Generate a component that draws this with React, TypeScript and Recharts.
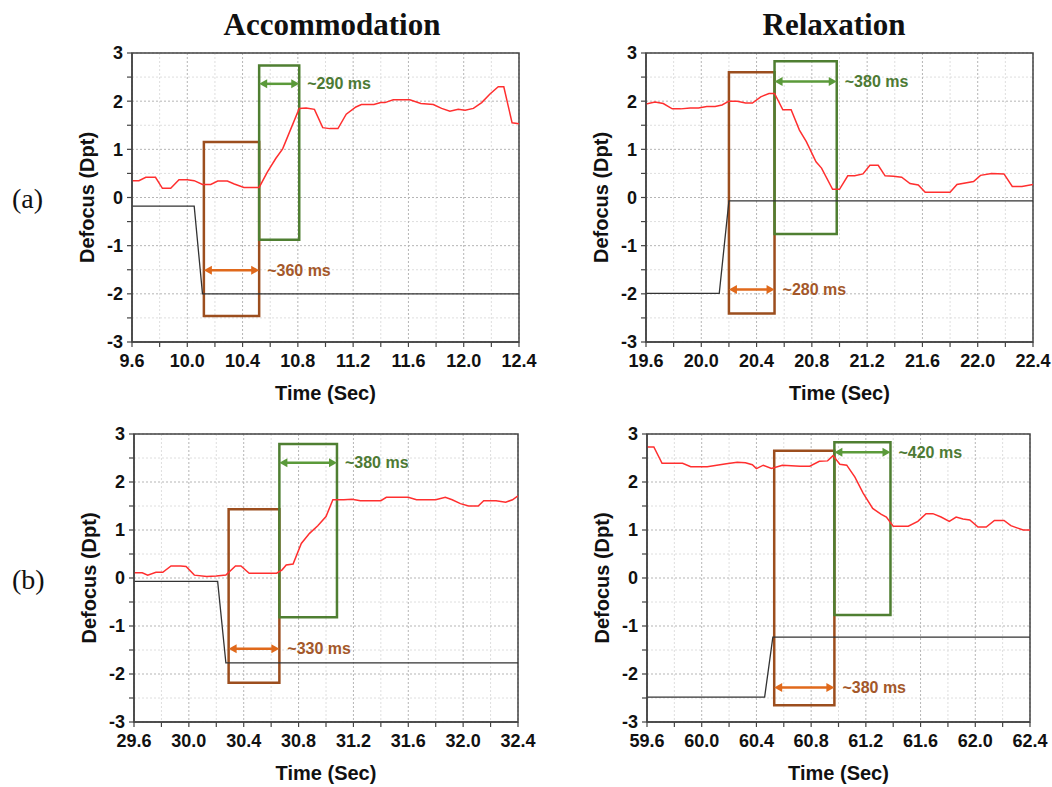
import React from "react"
import { LineChart, Line, XAxis, YAxis, CartesianGrid, ReferenceArea, ReferenceLine } from "recharts"

const FONT = '"Liberation Sans", Arial, sans-serif'
const SERIF = '"Liberation Serif", "Times New Roman", serif'

const RED = "#ff2f2f"
const BROWN_BOX = "#9c4e1e"
const BROWN_ARROW = "#e0691b"
const BROWN_TEXT = "#a4582a"
const GREEN_BOX = "#4f7f32"
const GREEN_ARROW = "#5b9a3a"
const GREEN_TEXT = "#4d7a34"

// measured defocus, [time (s), dpt]
const accA: [number, number][] = [
  [9.6, 0.35], [9.65, 0.35], [9.7, 0.42], [9.77, 0.42], [9.82, 0.19], [9.88, 0.19], [9.94, 0.37], [10.0, 0.37],
  [10.05, 0.35], [10.11, 0.27], [10.17, 0.27], [10.22, 0.34], [10.29, 0.34], [10.34, 0.28], [10.41, 0.21], [10.52, 0.21],
  [10.58, 0.53], [10.64, 0.81], [10.69, 1.01], [10.75, 1.43], [10.81, 1.85], [10.86, 1.86], [10.92, 1.83], [10.98, 1.45],
  [11.03, 1.43], [11.09, 1.43], [11.15, 1.73], [11.22, 1.88], [11.26, 1.93], [11.35, 1.93], [11.4, 1.97], [11.43, 1.97],
  [11.49, 2.03], [11.61, 2.03], [11.69, 1.95], [11.78, 1.93], [11.84, 1.85], [11.9, 1.79], [11.96, 1.83], [12.01, 1.81],
  [12.07, 1.85], [12.13, 1.97], [12.19, 2.15], [12.25, 2.3], [12.29, 2.3], [12.35, 1.55], [12.4, 1.53],
]
const relA: [number, number][] = [
  [19.6, 1.94], [19.665, 1.98], [19.725, 1.95], [19.79, 1.84], [19.85, 1.84], [19.92, 1.86], [19.98, 1.86], [20.04, 1.89],
  [20.1, 1.89], [20.15, 1.92], [20.2, 2.0], [20.26, 2.0], [20.32, 1.96], [20.37, 1.96], [20.43, 2.09], [20.49, 2.16],
  [20.53, 2.16], [20.59, 1.82], [20.65, 1.82], [20.71, 1.4], [20.76, 1.16], [20.83, 0.74], [20.87, 0.61], [20.95, 0.17],
  [21.0, 0.17], [21.06, 0.45], [21.11, 0.45], [21.17, 0.49], [21.22, 0.67], [21.28, 0.67], [21.33, 0.45], [21.39, 0.44],
  [21.45, 0.42], [21.51, 0.29], [21.57, 0.26], [21.62, 0.11], [21.8, 0.11], [21.85, 0.27], [21.97, 0.33], [22.02, 0.46],
  [22.1, 0.5], [22.19, 0.49], [22.25, 0.23], [22.32, 0.23], [22.4, 0.27],
]
const accB: [number, number][] = [
  [29.6, 0.11], [29.66, 0.11], [29.7, 0.06], [29.76, 0.12], [29.81, 0.12], [29.87, 0.25], [29.94, 0.25], [29.98, 0.24],
  [30.04, 0.06], [30.13, 0.03], [30.2, 0.04], [30.27, 0.06], [30.34, 0.25], [30.38, 0.25], [30.44, 0.1], [30.64, 0.1],
  [30.68, 0.17], [30.71, 0.27], [30.76, 0.29], [30.82, 0.72], [30.88, 0.93], [30.94, 1.09], [31.0, 1.28], [31.05, 1.63],
  [31.13, 1.63], [31.19, 1.64], [31.25, 1.61], [31.4, 1.61], [31.44, 1.68], [31.6, 1.68], [31.66, 1.63], [31.8, 1.63],
  [31.87, 1.68], [31.92, 1.63], [31.98, 1.55], [32.04, 1.5], [32.11, 1.5], [32.15, 1.61], [32.24, 1.61], [32.31, 1.58],
  [32.36, 1.63], [32.4, 1.71],
]
const relB: [number, number][] = [
  [59.6, 2.73], [59.65, 2.73], [59.71, 2.39], [59.86, 2.39], [59.92, 2.32], [60.04, 2.32], [60.11, 2.35], [60.18, 2.38],
  [60.26, 2.41], [60.32, 2.4], [60.37, 2.36], [60.4, 2.28], [60.45, 2.35], [60.51, 2.28], [60.59, 2.35], [60.72, 2.33],
  [60.79, 2.33], [60.86, 2.43], [60.92, 2.44], [60.96, 2.55], [61.01, 2.37], [61.06, 2.35], [61.12, 2.1], [61.18, 1.77],
  [61.25, 1.45], [61.31, 1.33], [61.35, 1.27], [61.4, 1.08], [61.51, 1.08], [61.58, 1.18], [61.64, 1.34], [61.69, 1.34],
  [61.75, 1.27], [61.81, 1.18], [61.86, 1.27], [61.91, 1.23], [61.96, 1.21], [62.02, 1.06], [62.08, 1.06], [62.14, 1.2],
  [62.21, 1.2], [62.26, 1.09], [62.3, 1.05], [62.35, 1.0], [62.4, 1.0],
]

// stimulus steps
const stimAccA: [number, number][] = [[9.6, -0.18], [10.05, -0.18], [10.11, -2], [12.4, -2]]
const stimRelA: [number, number][] = [[19.6, -1.99], [20.13, -1.99], [20.2, -0.07], [22.4, -0.07]]
const stimAccB: [number, number][] = [[29.6, -0.07], [30.21, -0.07], [30.27, -1.77], [32.4, -1.77]]
const stimRelB: [number, number][] = [[59.6, -2.48], [60.46, -2.48], [60.52, -1.23], [62.4, -1.23]]

// latency boxes [x1, x2, y1, y2] and arrows [x1, x2, y]
const boxesAccA = { brown: [10.12, 10.52, -2.46, 1.15], green: [10.52, 10.81, -0.875, 2.74] }
const arrowsAccA = { brown: [10.12, 10.52, -1.51], green: [10.52, 10.81, 2.36] }
const boxesRelA = { brown: [20.2, 20.53, -2.41, 2.6], green: [20.53, 20.98, -0.76, 2.83] }
const arrowsRelA = { brown: [20.2, 20.53, -1.91], green: [20.53, 20.98, 2.41] }
const boxesAccB = { brown: [30.29, 30.66, -2.18, 1.43], green: [30.66, 31.08, -0.82, 2.79] }
const arrowsAccB = { brown: [30.29, 30.66, -1.475], green: [30.66, 31.08, 2.4] }
const boxesRelB = { brown: [60.53, 60.97, -2.65, 2.65], green: [60.97, 61.38, -0.77, 2.83] }
const arrowsRelB = { brown: [60.53, 60.97, -2.28], green: [60.97, 61.38, 2.62] }

// axis ticks
const xMajorAccA = [9.6, 10.0, 10.4, 10.8, 11.2, 11.6, 12.0, 12.4]
const xMinorAccA = [9.8, 10.2, 10.6, 11.0, 11.4, 11.8, 12.2]
const xMajorRelA = [19.6, 20.0, 20.4, 20.8, 21.2, 21.6, 22.0, 22.4]
const xMinorRelA = [19.8, 20.2, 20.6, 21.0, 21.4, 21.8, 22.2]
const xMajorAccB = [29.6, 30.0, 30.4, 30.8, 31.2, 31.6, 32.0, 32.4]
const xMinorAccB = [29.8, 30.2, 30.6, 31.0, 31.4, 31.8, 32.2]
const xMajorRelB = [59.6, 60.0, 60.4, 60.8, 61.2, 61.6, 62.0, 62.4]
const xMinorRelB = [59.8, 60.2, 60.6, 61.0, 61.4, 61.8, 62.2]
const yMajor = [-3, -2, -1, 0, 1, 2, 3]
const yMinor = [-2.5, -1.5, -0.5, 0.5, 1.5, 2.5]

const toPts = (arr: [number, number][]) => arr.map(([t, v]) => ({ t, v }))

const arrowShape = (color: string, textColor: string, text: string) => (props: any) => {
  const { x1, y1, x2 } = props
  const w = 8
  const h = 4.5
  return (
    <g>
      <line x1={x1 + w - 1} y1={y1} x2={x2 - w + 1} y2={y1} stroke={color} strokeWidth={2.5} />
      <polygon points={`${x1},${y1} ${x1 + w},${y1 - h} ${x1 + w},${y1 + h}`} fill={color} />
      <polygon points={`${x2},${y1} ${x2 - w},${y1 - h} ${x2 - w},${y1 + h}`} fill={color} />
      <text x={x2 + 8} y={y1 + 5.5} fill={textColor} fontSize={16} fontWeight="bold" fontFamily={FONT}>
        {text}
      </text>
    </g>
  )
}

type PanelProps = {
  plotLeft: number
  plotTop: number
  plotW: number
  plotH: number
  red: [number, number][]
  black: [number, number][]
  xMajor: number[]
  xMinor: number[]
  boxes: { brown: number[]; green: number[] }
  arrows: { brown: number[]; green: number[] }
  brownText: string
  greenText: string
}

function Panel(p: PanelProps) {
  const yAxisW = 90
  const xAxisH = 102
  const topM = 13
  const rightM = 32
  const domain: [number, number] = [p.xMajor[0], p.xMajor[p.xMajor.length - 1]]
  const xTicks = [...p.xMajor, ...p.xMinor].sort((a, b) => a - b)
  const yTicks = [...yMajor, ...yMinor].sort((a, b) => a - b)
  const isMajorX = (v: number) => p.xMajor.some((m) => Math.abs(m - v) < 1e-6)
  const tickStyle = { fill: "#111", fontSize: 18, fontWeight: "bold", fontFamily: FONT }
  const labelStyle = { fill: "#111", fontSize: 20, fontWeight: "bold", fontFamily: FONT }
  return (
    <div style={{ position: "absolute", left: p.plotLeft - yAxisW, top: p.plotTop - topM }}>
      <LineChart
        width={yAxisW + p.plotW + rightM}
        height={topM + p.plotH + xAxisH}
        margin={{ top: topM, right: rightM, left: 0, bottom: 0 }}
      >
        <CartesianGrid stroke="#dedede" strokeDasharray="2 2" verticalValues={p.xMinor} horizontalValues={yMinor} />
        <CartesianGrid stroke="#b5b5b5" strokeDasharray="2 2" verticalValues={p.xMajor} horizontalValues={yMajor} />
        <XAxis
          type="number"
          dataKey="t"
          domain={domain}
          ticks={xTicks}
          allowDataOverflow
          height={xAxisH}
          tickSize={5}
          tickMargin={7}
          tickFormatter={(v: number) => (isMajorX(v) ? v.toFixed(1) : "")}
          axisLine={{ stroke: "#444", strokeWidth: 1.5 }}
          tickLine={{ stroke: "#444", strokeWidth: 1.2 }}
          tick={tickStyle}
          label={{ value: "Time (Sec)", position: "center", ...labelStyle }}
        />
        <YAxis
          type="number"
          domain={[-3, 3]}
          ticks={yTicks}
          allowDataOverflow
          width={yAxisW}
          tickSize={5}
          tickMargin={4}
          tickFormatter={(v: number) => (Number.isInteger(v) ? String(v) : "")}
          axisLine={{ stroke: "#444", strokeWidth: 1.5 }}
          tickLine={{ stroke: "#444", strokeWidth: 1.2 }}
          tick={tickStyle}
          label={{ value: "Defocus (Dpt)", position: "center", angle: -90, ...labelStyle }}
        />
        <ReferenceArea x1={domain[0]} x2={domain[1]} y1={-3} y2={3} fill="none" stroke="#444" strokeWidth={1.5} />
        <Line
          data={toPts(p.black)}
          dataKey="v"
          type="linear"
          stroke="#333"
          strokeWidth={1.3}
          dot={false}
          isAnimationActive={false}
        />
        <Line
          data={toPts(p.red)}
          dataKey="v"
          type="linear"
          stroke={RED}
          strokeWidth={1.5}
          dot={false}
          isAnimationActive={false}
        />
        <ReferenceArea
          x1={p.boxes.brown[0]}
          x2={p.boxes.brown[1]}
          y1={p.boxes.brown[2]}
          y2={p.boxes.brown[3]}
          fill="none"
          stroke={BROWN_BOX}
          strokeWidth={2.5}
        />
        <ReferenceArea
          x1={p.boxes.green[0]}
          x2={p.boxes.green[1]}
          y1={p.boxes.green[2]}
          y2={p.boxes.green[3]}
          fill="none"
          stroke={GREEN_BOX}
          strokeWidth={2.5}
        />
        <ReferenceLine
          segment={[
            { x: p.arrows.brown[0], y: p.arrows.brown[2] },
            { x: p.arrows.brown[1], y: p.arrows.brown[2] },
          ]}
          shape={arrowShape(BROWN_ARROW, BROWN_TEXT, p.brownText)}
        />
        <ReferenceLine
          segment={[
            { x: p.arrows.green[0], y: p.arrows.green[2] },
            { x: p.arrows.green[1], y: p.arrows.green[2] },
          ]}
          shape={arrowShape(GREEN_ARROW, GREEN_TEXT, p.greenText)}
        />
      </LineChart>
    </div>
  )
}

export default function App() {
  return (
    <div
      style={{
        position: "absolute",
        left: 0,
        top: 0,
        width: 1052,
        height: 787,
        overflow: "hidden",
        background: "#fff",
      }}
    >
      <svg width={1052} height={787} style={{ position: "absolute", left: 0, top: 0 }}>
        <text x={332} y={35} textAnchor="middle" fontSize={31} fontWeight="bold" fontFamily={SERIF} fill="#111">
          Accommodation
        </text>
        <text x={834} y={35} textAnchor="middle" fontSize={31} fontWeight="bold" fontFamily={SERIF} fill="#111">
          Relaxation
        </text>
        <text x={12} y={208} fontSize={28} fontFamily={SERIF} fill="#111">
          (a)
        </text>
        <text x={12} y={589} fontSize={28} fontFamily={SERIF} fill="#111">
          (b)
        </text>
      </svg>
      <Panel
        plotLeft={132}
        plotTop={53}
        plotW={387}
        plotH={289}
        red={accA}
        black={stimAccA}
        xMajor={xMajorAccA}
        xMinor={xMinorAccA}
        boxes={boxesAccA}
        arrows={arrowsAccA}
        brownText="~360 ms"
        greenText="~290 ms"
      />
      <Panel
        plotLeft={646}
        plotTop={53}
        plotW={387}
        plotH={289}
        red={relA}
        black={stimRelA}
        xMajor={xMajorRelA}
        xMinor={xMinorRelA}
        boxes={boxesRelA}
        arrows={arrowsRelA}
        brownText="~280 ms"
        greenText="~380 ms"
      />
      <Panel
        plotLeft={134}
        plotTop={434}
        plotW={384}
        plotH={288}
        red={accB}
        black={stimAccB}
        xMajor={xMajorAccB}
        xMinor={xMinorAccB}
        boxes={boxesAccB}
        arrows={arrowsAccB}
        brownText="~330 ms"
        greenText="~380 ms"
      />
      <Panel
        plotLeft={647}
        plotTop={434}
        plotW={383}
        plotH={288}
        red={relB}
        black={stimRelB}
        xMajor={xMajorRelB}
        xMinor={xMinorRelB}
        boxes={boxesRelB}
        arrows={arrowsRelB}
        brownText="~380 ms"
        greenText="~420 ms"
      />
    </div>
  )
}
